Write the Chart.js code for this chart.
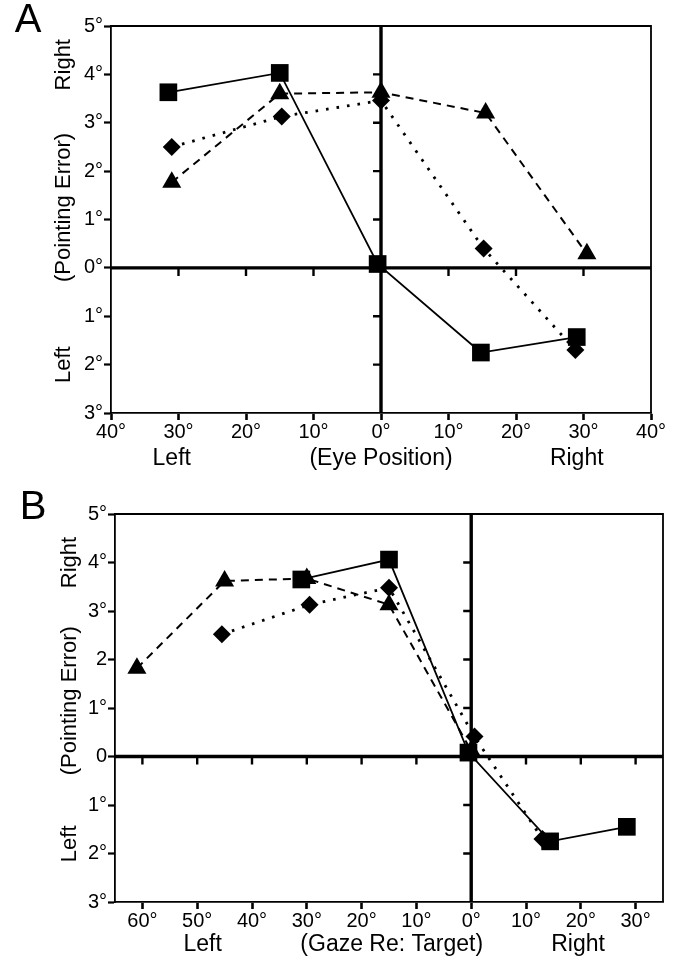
<!DOCTYPE html>
<html lang="en">
<head>
    <meta charset="UTF-8">
    <title>Pointing Error vs Eye Position</title>
    <script src="https://cdn.jsdelivr.net/npm/chart.js"></script>
    <style>
        body { margin: 0; background: #fff; }
        canvas { position: absolute; left: 0; }
        #chartA { top: 0; }
        #chartB { top: 480px; }
    </style>
</head>
<body>
    <canvas id="chartA" width="688" height="480"></canvas>
    <canvas id="chartB" width="688" height="485"></canvas>

    <script>
        // y axis (pointing error), shared by both panels
        const yTicks = [-3, -2, -1, 0, 1, 2, 3, 4, 5];
        const yTickLabelsA = ['3°', '2°', '1°', '0°', '1°', '2°', '3°', '4°', '5°'];
        const yTickLabelsB = ['3°', '2°', '1°', '0', '1°', '2', '3°', '4°', '5°'];

        // panel A: eye position
        const xTicksA = [-40, -30, -20, -10, 0, 10, 20, 30, 40];
        const xTickLabelsA = ['40°', '30°', '20°', '10°', '0°', '10°', '20°', '30°', '40°'];
        const squaresA = [[-31.5, 3.63], [-15, 4.03], [-0.5, 0.08], [14.8, -1.75], [29, -1.43]];
        const trianglesA = [[-31, 1.77], [-15, 3.6], [0, 3.63], [15.5, 3.2], [30.5, 0.29]];
        const diamondsA = [[-31, 2.5], [-14.7, 3.13], [0, 3.46], [15.2, 0.4], [28.8, -1.7]];

        // panel B: gaze relative to target
        const xTicksB = [-60, -50, -40, -30, -20, -10, 0, 10, 20, 30];
        const xTickLabelsB = ['60°', '50°', '40°', '30°', '20°', '10°', '0°', '10°', '20°', '30°'];
        const squaresB = [[-31, 3.65], [-15, 4.06], [-0.5, 0.08], [14.4, -1.75], [28.4, -1.45]];
        const trianglesB = [[-61, 1.82], [-45, 3.62], [-30, 3.67], [-15, 3.13], [0, 0.12]];
        const diamondsB = [[-45.5, 2.52], [-29.5, 3.13], [-15, 3.48], [0.6, 0.41], [13, -1.7]];

        const FONT = "'Liberation Sans', Arial, sans-serif";

        const panelPlugin = {
            id: 'panel',
            beforeDatasetsDraw(chart, args, o) {
                const { ctx, chartArea: a, scales: { x, y } } = chart;
                const x0 = x.getPixelForValue(0), y0 = y.getPixelForValue(0);
                ctx.save();
                ctx.strokeStyle = '#000';
                // frame top and right
                ctx.lineWidth = 1.8;
                ctx.beginPath();
                ctx.moveTo(a.left, a.top); ctx.lineTo(a.right, a.top); ctx.lineTo(a.right, a.bottom);
                ctx.stroke();
                // thick zero cross
                ctx.lineWidth = 3.4;
                ctx.beginPath();
                ctx.moveTo(a.left, y0); ctx.lineTo(a.right, y0);
                ctx.moveTo(x0, a.top); ctx.lineTo(x0, a.bottom);
                ctx.stroke();
                // ticks on the cross
                ctx.lineWidth = 2.4;
                ctx.beginPath();
                x.ticks.forEach(t => {
                    if (t.value === 0) return;
                    const px = x.getPixelForValue(t.value);
                    if (px <= a.left + 2 || px >= a.right - 2) return;
                    ctx.moveTo(px, y0); ctx.lineTo(px, y0 + 8);
                });
                y.ticks.forEach(t => {
                    if (t.value === 0) return;
                    const py = y.getPixelForValue(t.value);
                    if (py <= a.top + 2 || py >= a.bottom - 2) return;
                    ctx.moveTo(x0, py); ctx.lineTo(x0 - 8, py);
                });
                ctx.stroke();
                ctx.restore();
            },
            afterDraw(chart, args, o) {
                const { ctx, scales: { x, y } } = chart;
                ctx.save();
                ctx.fillStyle = '#000';
                ctx.textAlign = 'center';
                ctx.textBaseline = 'middle';
                // panel letter
                ctx.font = '40px ' + FONT;
                ctx.fillText(o.letter, o.letterX, o.letterY);
                // rotated y titles
                ctx.font = '22px ' + FONT;
                o.side.forEach(s => {
                    ctx.save();
                    ctx.translate(o.sideX, y.getPixelForValue(s.at));
                    ctx.rotate(-Math.PI / 2);
                    ctx.fillText(s.text, 0, 0);
                    ctx.restore();
                });
                // x titles
                ctx.font = '23px ' + FONT;
                o.bottom.forEach(s => {
                    ctx.fillText(s.text, x.getPixelForValue(s.at), o.bottomY);
                });
                ctx.restore();
            }
        };

        function series(points, style, radius, dash, width) {
            return {
                data: points.map(([x, y]) => ({ x, y })),
                showLine: true,
                borderColor: '#000',
                backgroundColor: '#000',
                borderWidth: width,
                borderDash: dash,
                pointStyle: style,
                pointRadius: radius,
                pointBorderWidth: 0,
                tension: 0
            };
        }

        function makeChart(id, cfg) {
            return new Chart(document.getElementById(id), {
                type: 'scatter',
                data: {
                    datasets: [
                        series(cfg.diamonds, 'rectRot', 9, [2.6, 8], 2.8),
                        series(cfg.triangles, 'triangle', 11, [8, 6], 2),
                        series(cfg.squares, 'rect', 12.5, [], 1.8)
                    ]
                },
                options: {
                    responsive: false,
                    animation: false,
                    layout: { padding: cfg.padding },
                    plugins: {
                        legend: { display: false },
                        tooltip: { enabled: false },
                        panel: cfg.panel
                    },
                    scales: {
                        x: {
                            type: 'linear',
                            min: cfg.xMin, max: cfg.xMax,
                            afterBuildTicks: s => { s.ticks = cfg.xTicks.map(v => ({ value: v })); },
                            afterFit: s => { s.height = cfg.xHeight; },
                            ticks: {
                                color: '#000', padding: 0, maxRotation: 0, autoSkip: false,
                                font: { family: FONT, size: 20 },
                                callback: (v, i) => cfg.xLabels[i]
                            },
                            grid: { drawOnChartArea: false, drawTicks: true, tickLength: 7, tickWidth: 2.6, color: '#000' },
                            border: { display: true, color: '#000', width: 1.8 }
                        },
                        y: {
                            type: 'linear',
                            min: -3, max: 5,
                            afterBuildTicks: s => { s.ticks = yTicks.map(v => ({ value: v })); },
                            afterFit: s => { s.width = cfg.yWidth; },
                            ticks: {
                                color: '#000', padding: 1, autoSkip: false,
                                font: { family: FONT, size: 20 },
                                callback: (v, i) => cfg.yLabels[i]
                            },
                            grid: { drawOnChartArea: false, drawTicks: true, tickLength: 7, tickWidth: 2.2, color: '#000' },
                            border: { display: true, color: '#000', width: 1.8 }
                        }
                    }
                },
                plugins: [panelPlugin]
            });
        }

        makeChart('chartA', {
            squares: squaresA, triangles: trianglesA, diamonds: diamondsA,
            xMin: -40, xMax: 40, xTicks: xTicksA, xLabels: xTickLabelsA, yLabels: yTickLabelsA,
            padding: { top: 26, right: 37, left: 0, bottom: 0 }, yWidth: 111, xHeight: 67,
            panel: {
                letter: 'A', letterX: 28, letterY: 21,
                sideX: 64,
                side: [{ text: 'Right', at: 4.2 }, { text: '(Pointing Error)', at: 1.25 }, { text: 'Left', at: -2.0 }],
                bottomY: 459,
                bottom: [{ text: 'Left', at: -31 }, { text: '(Eye Position)', at: 0 }, { text: 'Right', at: 29 }]
            }
        });

        makeChart('chartB', {
            squares: squaresB, triangles: trianglesB, diamonds: diamondsB,
            xMin: -65, xMax: 35, xTicks: xTicksB, xLabels: xTickLabelsB, yLabels: yTickLabelsB,
            padding: { top: 34, right: 25, left: 0, bottom: 0 }, yWidth: 115, xHeight: 63,
            panel: {
                letter: 'B', letterX: 33, letterY: 28,
                sideX: 70,
                side: [{ text: 'Right', at: 4.0 }, { text: '(Pointing Error)', at: 1.15 }, { text: 'Left', at: -1.8 }],
                bottomY: 465,
                bottom: [{ text: 'Left', at: -49 }, { text: '(Gaze Re: Target)', at: -14.5 }, { text: 'Right', at: 19.5 }]
            }
        });
    </script>
</body>
</html>
